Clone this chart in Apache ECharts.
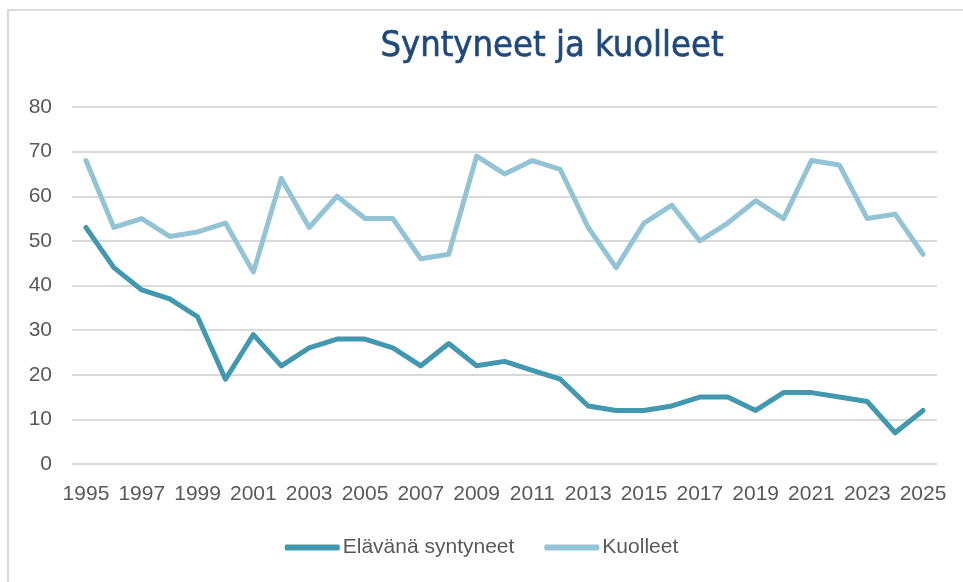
<!DOCTYPE html>
<html>
<head>
<meta charset="utf-8">
<script src="https://cdn.jsdelivr.net/npm/echarts@6/dist/echarts.min.js"></script>
<style>
  html, body { margin: 0; padding: 0; background: #fff; }
  #main { width: 963px; height: 582px; }
</style>
</head>
<body>
<div id="main"></div>
<script>
  var years = ['1995', '1996', '1997', '1998', '1999', '2000', '2001', '2002', '2003', '2004',
    '2005', '2006', '2007', '2008', '2009', '2010', '2011', '2012', '2013', '2014',
    '2015', '2016', '2017', '2018', '2019', '2020', '2021', '2022', '2023', '2024', '2025']
  // Elävänä syntyneet
  var syntyneet = [53, 44, 39, 37, 33, 19, 29, 22, 26, 28,
    28, 26, 22, 27, 22, 23, 21, 19, 13, 12,
    12, 13, 15, 15, 12, 16, 16, 15, 14, 7, 12]
  // Kuolleet
  var kuolleet = [68, 53, 55, 51, 52, 54, 43, 64, 53, 60,
    55, 55, 46, 47, 69, 65, 68, 66, 53, 44,
    54, 58, 50, 54, 59, 55, 68, 67, 55, 56, 47]

  var labelColor = '#595959'
  var font = '"Liberation Sans", Arial, sans-serif'

  var chart = echarts.init(document.getElementById('main'))
  var option = {
    animation: false,
    backgroundColor: '#fff',
    graphic: [{
      type: 'rect',
      shape: { x: 8, y: 10, width: 1000, height: 620 },
      style: { fill: 'none', stroke: '#d9d9d9', lineWidth: 2 },
      silent: true
    }],
    title: {
      text: 'Syntyneet ja kuolleet',
      left: 547,
      textAlign: 'center',
      top: 24,
      textStyle: {
        fontFamily: '"Liberation Sans Narrow", "DejaVu Sans Condensed", sans-serif',
        fontWeight: 'normal',
        fontSize: 36,
        textBorderColor: '#1f497d',
        textBorderWidth: 0.6,
        color: '#1f497d'
      }
    },
    legend: {
      bottom: 19,
      left: 'center',
      itemWidth: 55,
      itemHeight: 6,
      itemGap: 30,
      icon: 'roundRect',
      textStyle: { fontFamily: font, fontSize: 21, color: labelColor, padding: [0, 0, 0, -2] },
      data: ['Elävänä syntyneet', 'Kuolleet']
    },
    grid: { left: 72, right: 26, top: 107, bottom: 118 },
    xAxis: {
      type: 'category',
      boundaryGap: true,
      data: years,
      axisLine: { show: false },
      axisTick: { show: false },
      axisLabel: {
        interval: 1,
        margin: 20,
        fontFamily: font,
        fontSize: 21,
        color: labelColor
      },
      splitLine: { show: false }
    },
    yAxis: {
      type: 'value',
      min: 0,
      max: 80,
      interval: 10,
      axisLine: { show: false },
      axisTick: { show: false },
      axisLabel: {
        margin: 20,
        fontFamily: font,
        fontSize: 21,
        color: labelColor
      },
      splitLine: { lineStyle: { color: '#d9d9d9', width: 2 } }
    },
    series: [
      {
        name: 'Elävänä syntyneet',
        type: 'line',
        data: syntyneet,
        showSymbol: false,
        color: '#4198af',
        lineStyle: { width: 5, color: '#4198af', cap: 'round', join: 'round' }
      },
      {
        name: 'Kuolleet',
        type: 'line',
        data: kuolleet,
        showSymbol: false,
        color: '#93c4d6',
        lineStyle: { width: 5, color: '#93c4d6', cap: 'round', join: 'round' }
      }
    ]
  }
  chart.setOption(option)
</script>
</body>
</html>
